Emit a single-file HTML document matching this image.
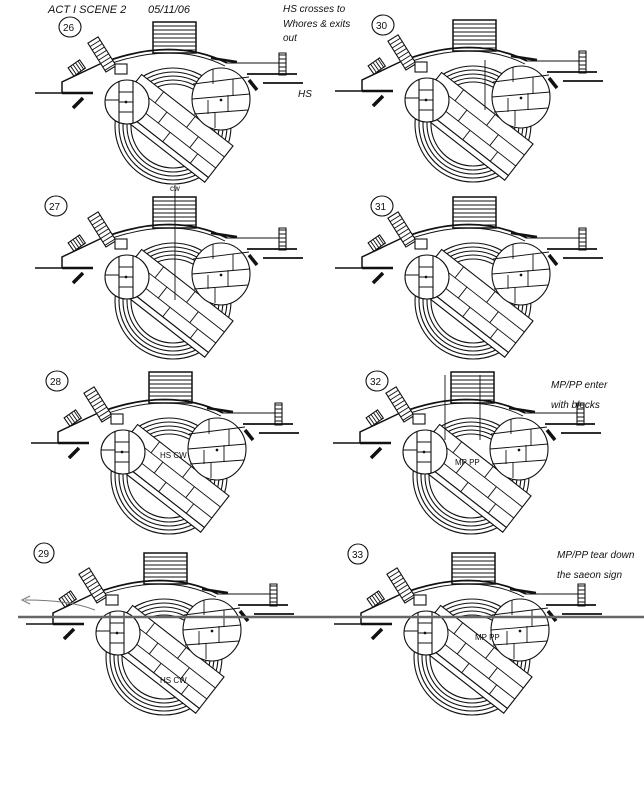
<!DOCTYPE html>
<html><head><meta charset="utf-8"><style>
body{margin:0;background:#fff}
svg{display:block}
text{font-family:"Liberation Sans",sans-serif;fill:#111}
</style></head><body>
<svg width="644" height="800" viewBox="0 0 644 800" xmlns="http://www.w3.org/2000/svg">
<defs>
<g id="p" fill="none" stroke="#111" stroke-width="1.1">
  <rect x="0" y="0" width="43" height="31" fill="#fff" stroke-width="1.5"/>
  <path d="M0,4H43M0,8H43M0,12H43M0,16H43M0,20H43M0,24H43M0,28H43" stroke-width="0.9"/>
  <ellipse cx="20" cy="104" rx="58" ry="58"/>
  <ellipse cx="20" cy="104" rx="54" ry="54"/>
  <ellipse cx="20" cy="104" rx="50" ry="50"/>
  <ellipse cx="20" cy="104" rx="46" ry="46"/>
  <ellipse cx="20" cy="104" rx="42" ry="42"/>
  <g transform="translate(22,104) rotate(38)">
    <rect x="-58" y="-20" width="116" height="40" fill="#fff"/>
    <path d="M-58,-6H58M-58,8H58M-30,-20V-6M10,-20V-6M-15,-6V8M25,-6V8M-40,8V20M0,8V20M35,8V20" stroke-width="0.9"/>
    <rect x="-58" y="20" width="116" height="6" fill="#fff"/>
  </g>
  <path d="M-51,41 Q20,14 74,41" stroke-width="1.8"/>
  <path d="M-49,44 Q20,18 72,44" stroke-width="0.9"/>
  <path d="M74,41H126V31H133V53H126V41"/>
  <path d="M126,33H133M126,37H133M126,41H133M126,45H133M126,49H133" stroke-width="0.9"/>
  <path d="M94,52H144" stroke-width="1.8"/>
  <path d="M110,61H150" stroke-width="1.8"/>
  <path d="M-118,71H-91V60L-51,41" stroke-width="1.5"/>
  <path d="M-91,71H-60" stroke-width="2.5"/>
  <g transform="translate(-60,18) rotate(58)">
    <rect x="0" y="-6" width="34" height="12" fill="#fff"/>
    <path d="M4,-6V6M8,-6V6M12,-6V6M16,-6V6M20,-6V6M24,-6V6M28,-6V6M32,-6V6" stroke-width="0.9"/>
  </g>
  <g transform="translate(-82,50) rotate(-35)">
    <rect x="0" y="-5" width="14" height="10" fill="#fff"/>
    <path d="M3,-5V5M6,-5V5M9,-5V5M12,-5V5" stroke-width="0.9"/>
  </g>
  <path d="M-80,86L-70,76" stroke-width="3.5"/>
  <path d="M96,58L104,68" stroke-width="3.5"/>
  <rect x="-38" y="42" width="12" height="10" fill="#fff"/>
  <path d="M58,36L84,40" stroke-width="2.5"/>
  <circle cx="-26" cy="80" r="22" fill="#fff"/>
  <path d="M-34,59V101M-20,59V101M-34,70H-20M-34,80H-20M-34,90H-20M-48,78H-34"/>
  <circle cx="-27" cy="80" r="0.8" fill="#111"/>
  <ellipse cx="68" cy="77" rx="29" ry="31" fill="#fff"/>
  <path d="M40,62L96,55M39,77L97,72M41,92L95,88M60,47V62M80,57V73M55,78V92M75,73V89M62,90V106" stroke-width="0.9"/>
  <circle cx="68" cy="78" r="0.8" fill="#111"/>
</g>
</defs>

<use href="#p" x="153" y="22"/>
<use href="#p" x="453" y="20"/>
<use href="#p" x="153" y="197"/>
<use href="#p" x="453" y="197"/>
<use href="#p" x="149" y="372"/>
<use href="#p" x="451" y="372"/>
<use href="#p" x="144" y="553"/>
<use href="#p" x="452" y="553"/>

<path d="M18,617H644" stroke="#666" stroke-width="2.5"/>

<g font-size="11" font-style="italic">
<text x="48" y="13">ACT I  SCENE 2</text>
<text x="148" y="13">05/11/06</text>
<text x="283" y="12" font-size="10">HS crosses to</text>
<text x="283" y="27" font-size="10">Whores &amp; exits</text>
<text x="283" y="41" font-size="10">out</text>
<text x="298" y="97" font-size="10">HS</text>
<text x="551" y="388" font-size="10">MP/PP enter</text>
<text x="551" y="408" font-size="10">with blocks</text>
<text x="557" y="558" font-size="10">MP/PP tear down</text>
<text x="557" y="578" font-size="10">the saeon sign</text>
</g>
<g fill="none" stroke="#111" stroke-width="1.1">
<ellipse cx="70" cy="27" rx="11" ry="10"/>
<ellipse cx="383" cy="25" rx="11" ry="10"/>
<ellipse cx="56" cy="206" rx="11" ry="10"/>
<ellipse cx="382" cy="206" rx="11" ry="10"/>
<ellipse cx="57" cy="381" rx="11" ry="10"/>
<ellipse cx="377" cy="381" rx="11" ry="10"/>
<ellipse cx="44" cy="553" rx="10" ry="10"/>
<ellipse cx="358" cy="554" rx="10" ry="10"/>
<path d="M95,610 Q70,600 25,600" stroke="#777"/>
<path d="M30,596L22,600L30,604" stroke="#777"/>
<path d="M175,185V300M445,375V440M480,375V440M485,60V110" stroke-width="0.9"/>
</g>
<g font-size="10">
<text x="63" y="31">26</text><text x="376" y="29">30</text>
<text x="49" y="210">27</text><text x="375" y="210">31</text>
<text x="50" y="385">28</text><text x="370" y="385">32</text>
<text x="38" y="557">29</text><text x="352" y="558">33</text>
<text x="170" y="191" font-size="8">cw</text>
<text x="160" y="458" font-size="8">HS CW</text>
<text x="160" y="683" font-size="8">HS CW</text>
<text x="455" y="465" font-size="8">MP PP</text>
<text x="475" y="640" font-size="8">MP PP</text>
</g>
</svg>
</body></html>
